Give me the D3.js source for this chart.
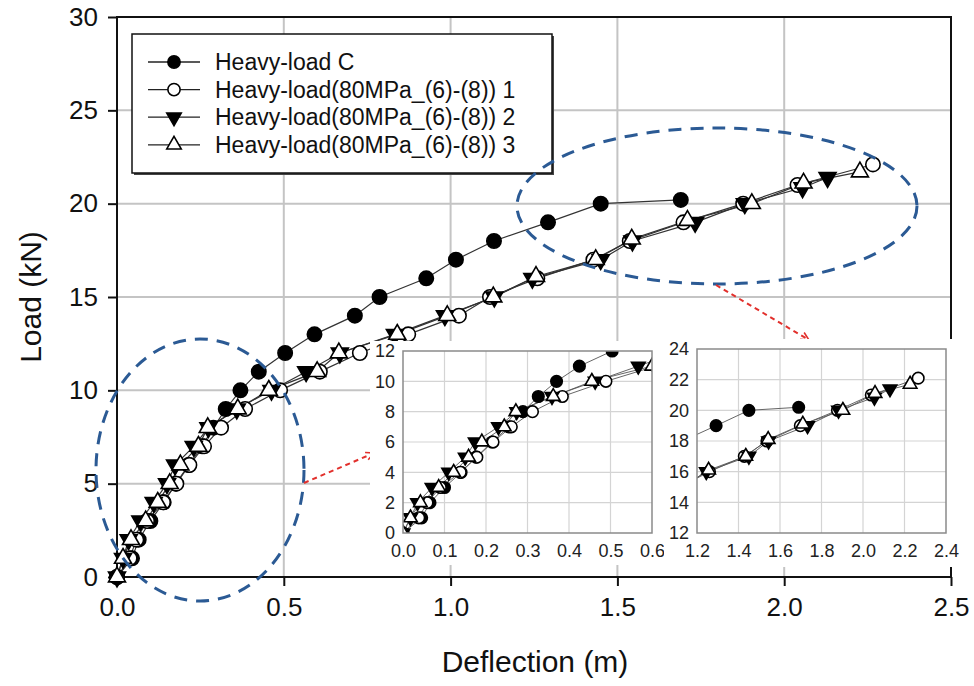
<!DOCTYPE html>
<html>
<head>
<meta charset="utf-8">
<script src="https://cdn.jsdelivr.net/npm/d3@7"></script>
<style>
  body { margin: 0; background: white; }
  svg { font-family: "Liberation Sans", Arial, sans-serif; }
</style>
</head>
<body>
<svg id="chart" width="974" height="686"></svg>
<script>
// series names shown in the legend
const seriesNames = [
    "Heavy-load C",
    "Heavy-load(80MPa_(6)-(8)) 1",
    "Heavy-load(80MPa_(6)-(8)) 2",
    "Heavy-load(80MPa_(6)-(8)) 3"
];
const seriesMarkers = ["circleFilled", "circleOpen", "triDown", "triUp"];

// deflection (m) / load (kN)
const heavyC_x = [0, 0.045, 0.065, 0.1, 0.14, 0.176, 0.215, 0.255, 0.289, 0.326, 0.37, 0.425, 0.504, 0.592, 0.713, 0.787, 0.927, 1.016, 1.13, 1.292, 1.45, 1.69];
const heavyC_y = [0, 1, 2, 3, 4, 5, 6, 7, 8, 9, 10, 11, 12, 13, 14, 15, 16, 17, 18, 19, 20, 20.2];

const heavy1_x = [0, 0.038, 0.058, 0.09, 0.138, 0.178, 0.217, 0.261, 0.312, 0.384, 0.489, 0.608, 0.728, 0.873, 1.025, 1.118, 1.26, 1.428, 1.537, 1.698, 1.877, 2.04, 2.266];
const heavy1_y = [0, 1, 2, 3, 4, 5, 6, 7, 8, 9, 10, 11, 12, 13, 14, 15, 16, 17, 18, 19, 20, 21, 22.1];

const heavy2_x = [0, 0.018, 0.035, 0.07, 0.11, 0.15, 0.174, 0.23, 0.274, 0.359, 0.463, 0.567, 0.668, 0.833, 0.983, 1.131, 1.245, 1.45, 1.545, 1.733, 1.882, 2.055, 2.13];
const heavy2_y = [0, 1, 2, 3, 4, 5, 6, 7, 8, 9, 10, 11, 12, 13, 14, 15, 16, 17, 18, 19, 20, 20.85, 21.4];

const heavy3_x = [0, 0.018, 0.042, 0.086, 0.122, 0.158, 0.19, 0.244, 0.272, 0.362, 0.455, 0.6, 0.665, 0.84, 0.99, 1.128, 1.256, 1.435, 1.543, 1.71, 1.903, 2.058, 2.227];
const heavy3_y = [0, 1, 2, 3, 4, 5, 6, 7, 8, 9, 10, 11, 12, 13, 14, 15, 16.1, 17, 18.1, 19.1, 20, 21.1, 21.7];

// tick labels
const mainXTicks = [0, 0.5, 1.0, 1.5, 2.0, 2.5];
const mainYTicks = [0, 5, 10, 15, 20, 25, 30];
const inset1XTicks = [0, 0.1, 0.2, 0.3, 0.4, 0.5, 0.6];
const inset1YTicks = [0, 2, 4, 6, 8, 10, 12];
const inset2XTicks = [1.2, 1.4, 1.6, 1.8, 2.0, 2.2, 2.4];
const inset2YTicks = [12, 14, 16, 18, 20, 22, 24];

const series = [
    heavyC_x.map((d, i) => [d, heavyC_y[i]]),
    heavy1_x.map((d, i) => [d, heavy1_y[i]]),
    heavy2_x.map((d, i) => [d, heavy2_y[i]]),
    heavy3_x.map((d, i) => [d, heavy3_y[i]])
];

const ellipseColor = "#2b5a94";
const arrowColor = "#e2302c";

const svg = d3.select("#chart");

const defs = svg.append("defs");
defs.append("marker")
    .attr("id", "redHead")
    .attr("viewBox", "0 0 10 10")
    .attr("refX", 9).attr("refY", 5)
    .attr("markerWidth", 5).attr("markerHeight", 5)
    .attr("markerUnits", "strokeWidth")
    .attr("orient", "auto")
    .append("path")
    .attr("d", "M1,1 L9,5 L1,9")
    .attr("fill", "none")
    .attr("stroke", arrowColor)
    .attr("stroke-width", 1.6);

/**
 * Draw one marker glyph into a selection
 */
function drawMarker(g, kind, scale) {
    const circleArea = Math.PI * 7.2 * 7.2 * scale * scale;
    const triArea = 125 * scale * scale;
    if (kind === "circleFilled" || kind === "circleOpen") {
        g.append("path")
            .attr("d", d3.symbol(d3.symbolCircle, circleArea)())
            .attr("fill", kind === "circleFilled" ? "black" : "white")
            .attr("stroke", "black")
            .attr("stroke-width", 1.6);
    } else {
        g.append("path")
            .attr("d", d3.symbol(d3.symbolTriangle, triArea)())
            .attr("transform", kind === "triDown" ? "rotate(180)" : null)
            .attr("fill", kind === "triDown" ? "black" : "white")
            .attr("stroke", "black")
            .attr("stroke-width", 1.6);
    }
}

function drawSeries(g, xs, ys, scale, lineColor, lineWidth) {
    const line = d3.line().x(d => xs(d[0])).y(d => ys(d[1]));
    series.forEach((pts, si) => {
        g.append("path")
            .attr("d", line(pts))
            .attr("fill", "none")
            .attr("stroke", lineColor)
            .attr("stroke-width", lineWidth);
    });
    series.forEach((pts, si) => {
        g.selectAll(null)
            .data(pts)
            .enter().append("g")
            .attr("transform", d => `translate(${xs(d[0])},${ys(d[1])})`)
            .each(function() { drawMarker(d3.select(this), seriesMarkers[si], scale); });
    });
}

// ---------- main chart ----------
const x = d3.scaleLinear().domain([0, 2.5]).range([117, 951]);
const y = d3.scaleLinear().domain([0, 30]).range([577, 17]);

const grid = svg.append("g");
grid.selectAll(".vg")
    .data(mainXTicks.slice(1, -1))
    .enter().append("line")
    .attr("x1", d => x(d)).attr("x2", d => x(d))
    .attr("y1", y(30)).attr("y2", y(0))
    .attr("stroke", "#c4c4c4").attr("stroke-width", 2);
grid.selectAll(".hg")
    .data(mainYTicks.slice(1, -1))
    .enter().append("line")
    .attr("x1", x(0)).attr("x2", x(2.5))
    .attr("y1", d => y(d)).attr("y2", d => y(d))
    .attr("stroke", "#c4c4c4").attr("stroke-width", 2);

// frame
svg.append("rect")
    .attr("x", x(0)).attr("y", y(30))
    .attr("width", x(2.5) - x(0)).attr("height", y(0) - y(30))
    .attr("fill", "none").attr("stroke", "#111").attr("stroke-width", 2);

const xAxis = svg.append("g")
    .attr("transform", `translate(0,${y(0)})`)
    .call(d3.axisBottom(x).tickValues(mainXTicks).tickFormat(d3.format(".1f")).tickSize(9).tickPadding(12));
const yAxis = svg.append("g")
    .attr("transform", `translate(${x(0)},0)`)
    .call(d3.axisLeft(y).tickValues(mainYTicks).tickSize(9).tickPadding(10));
[xAxis, yAxis].forEach(a => {
    a.select(".domain").remove();
    a.selectAll("line").attr("stroke", "#111").attr("stroke-width", 2);
    a.selectAll("text").attr("font-size", 26).attr("fill", "#111")
        .attr("font-family", "Liberation Sans, Arial, sans-serif");
});

svg.append("text")
    .attr("x", 535).attr("y", 672)
    .attr("text-anchor", "middle")
    .attr("font-size", 30)
    .attr("fill", "#111")
    .text("Deflection (m)");
svg.append("text")
    .attr("transform", "translate(41,297) rotate(-90)")
    .attr("text-anchor", "middle")
    .attr("font-size", 30)
    .attr("fill", "#111")
    .text("Load (kN)");

drawSeries(svg.append("g"), x, y, 1, "#333", 1.2);

// ---------- legend ----------
const legend = svg.append("g");
legend.append("rect")
    .attr("x", 134).attr("y", 36).attr("width", 420).attr("height", 139)
    .attr("fill", "#444");
legend.append("rect")
    .attr("x", 132).attr("y", 34).attr("width", 420).attr("height", 139)
    .attr("fill", "white").attr("stroke", "#111").attr("stroke-width", 1.5);
seriesNames.forEach((name, i) => {
    const ly = 62 + i * 27.6;
    legend.append("line")
        .attr("x1", 148).attr("x2", 200).attr("y1", ly).attr("y2", ly)
        .attr("stroke", "#222").attr("stroke-width", 1.3);
    const mg = legend.append("g").attr("transform", `translate(174,${ly})`);
    drawMarker(mg, seriesMarkers[i], 0.85);
    legend.append("text")
        .attr("x", 215).attr("y", ly + 8)
        .attr("font-size", 23)
        .attr("fill", "#111")
        .text(name);
});

// ---------- highlight ellipses and arrows ----------
svg.append("ellipse")
    .attr("cx", 200).attr("cy", 470).attr("rx", 104).attr("ry", 131)
    .attr("fill", "none").attr("stroke", ellipseColor)
    .attr("stroke-width", 3).attr("stroke-dasharray", "13 9");
svg.append("ellipse")
    .attr("cx", 717).attr("cy", 206).attr("rx", 200).attr("ry", 78)
    .attr("fill", "none").attr("stroke", ellipseColor)
    .attr("stroke-width", 3).attr("stroke-dasharray", "13 9");

svg.append("line")
    .attr("x1", 304).attr("y1", 483).attr("x2", 374).attr("y2", 453)
    .attr("stroke", arrowColor).attr("stroke-width", 2)
    .attr("stroke-dasharray", "5 4")
    .attr("marker-end", "url(#redHead)");
svg.append("line")
    .attr("x1", 716).attr("y1", 285).attr("x2", 809).attr("y2", 340)
    .attr("stroke", arrowColor).attr("stroke-width", 2)
    .attr("stroke-dasharray", "5 4")
    .attr("marker-end", "url(#redHead)");

// ---------- insets ----------
function drawInset(id, xDomain, yDomain, xRange, yRange, xTicks, yTicks, bg) {
    const g = svg.append("g");
    const ix = d3.scaleLinear().domain(xDomain).range(xRange);
    const iy = d3.scaleLinear().domain(yDomain).range(yRange);

    g.append("rect")
        .attr("x", bg[0]).attr("y", bg[1]).attr("width", bg[2]).attr("height", bg[3])
        .attr("fill", "white");

    g.selectAll(".ivg")
        .data(xTicks.slice(1, -1))
        .enter().append("line")
        .attr("x1", d => ix(d)).attr("x2", d => ix(d))
        .attr("y1", yRange[1]).attr("y2", yRange[0])
        .attr("stroke", "#d4d4d4").attr("stroke-width", 1.2);
    g.selectAll(".ihg")
        .data(yTicks.slice(1, -1))
        .enter().append("line")
        .attr("x1", xRange[0]).attr("x2", xRange[1])
        .attr("y1", d => iy(d)).attr("y2", d => iy(d))
        .attr("stroke", "#d4d4d4").attr("stroke-width", 1.2);

    defs.append("clipPath").attr("id", id)
        .append("rect")
        .attr("x", xRange[0]).attr("y", yRange[1])
        .attr("width", xRange[1] - xRange[0]).attr("height", yRange[0] - yRange[1]);

    drawSeries(g.append("g").attr("clip-path", `url(#${id})`), ix, iy, 0.8, "#555", 0.9);

    g.append("rect")
        .attr("x", xRange[0]).attr("y", yRange[1])
        .attr("width", xRange[1] - xRange[0]).attr("height", yRange[0] - yRange[1])
        .attr("fill", "none").attr("stroke", "#8a8a8a").attr("stroke-width", 1.5);

    const ax = g.append("g")
        .attr("transform", `translate(0,${yRange[0]})`)
        .call(d3.axisBottom(ix).tickValues(xTicks).tickFormat(d3.format(".1f")).tickSize(0).tickPadding(11));
    const ay = g.append("g")
        .attr("transform", `translate(${xRange[0]},0)`)
        .call(d3.axisLeft(iy).tickValues(yTicks).tickSize(0).tickPadding(8));
    [ax, ay].forEach(a => {
        a.select(".domain").remove();
        a.selectAll("text").attr("font-size", 18).attr("fill", "#222")
            .attr("font-family", "Liberation Sans, Arial, sans-serif");
    });
}

drawInset("clipInset1", [0, 0.6], [0, 12], [403, 652], [533, 351],
    inset1XTicks, inset1YTicks, [370, 341, 294, 224]);
drawInset("clipInset2", [1.2, 2.4], [12, 24], [697, 946], [533, 349],
    inset2XTicks, inset2YTicks, [664, 339, 300, 228]);
</script>
</body>
</html>
